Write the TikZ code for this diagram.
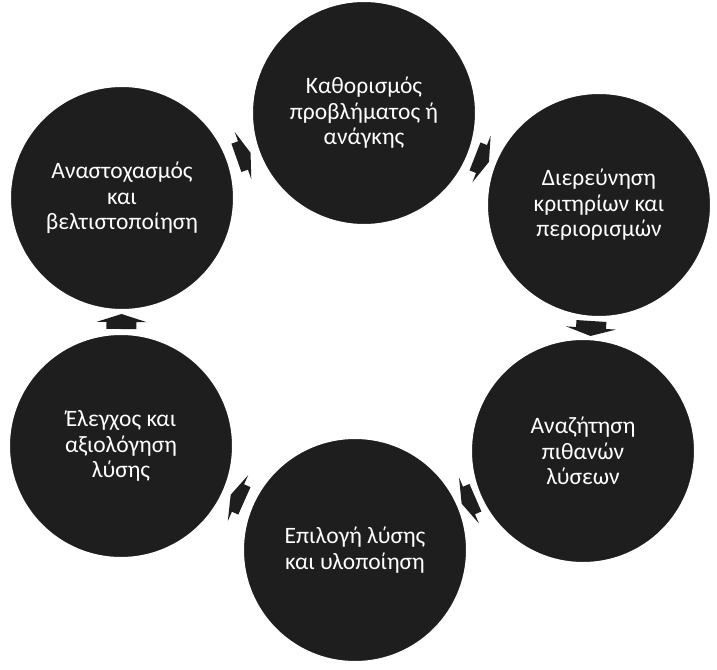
\documentclass[tikz,border=0pt]{standalone}
\usepackage{fontspec}
\setmainfont{Carlito}
\usetikzlibrary{calc}
\usetikzlibrary{backgrounds}

\definecolor{cyclegray}{RGB}{30,30,30}

\begin{document}
\begin{tikzpicture}[x=1pt,y=-1pt]
  \tikzset{stage/.style = {shape=circle,fill=cyclegray,draw=white,line width=4pt,minimum size=226pt,inner sep=0pt,text=white,align=center,font=\fontsize{23.5}{25.5}\selectfont}}
  \tikzset{cyclearrow/.pic = {\fill[cyclegray] (-7pt,-15pt) -- (0pt,-15pt) -- (0pt,-25pt) -- (8pt,0pt) -- (0pt,25pt) -- (0pt,15pt) -- (-7pt,15pt) -- cycle;}}

  \useasboundingbox (0,0) rectangle (717,669);

	\node[stage] (kath) at (364,113) {Καθορισμός\\προβλήματος ή\\ανάγκης};
	\node[stage] (dier) at (599,205) {Διερεύνηση\\κριτηρίων και\\περιορισμών};
	\node[stage] (anaz) at (583,451) {Αναζήτηση\\πιθανών\\λύσεων};
	\node[stage] (epil) at (355,550) {Επιλογή λύσης\\και υλοποίηση};
	\node[stage] (eleg) at (121,446) {Έλεγχος και\\αξιολόγηση\\λύσης};
	\node[stage] (anas) at (122,198) {Αναστοχασμός\\και\\βελτιστοποίηση};

  \begin{scope}[on background layer]
    \fill[white] (0,0) rectangle (717,669);
    \foreach \from/\to in {kath/dier, dier/anaz, anaz/epil, epil/eleg, eleg/anas, anas/kath}
    \path let \p1=(\from.center), \p2=(\to.center), \n1={atan2(\y2-\y1,\x2-\x1)} in
      ($(\p1)!0.5!(\p2)$) pic[rotate=\n1] {cyclearrow};
  \end{scope}

\end{tikzpicture}
\end{document}
